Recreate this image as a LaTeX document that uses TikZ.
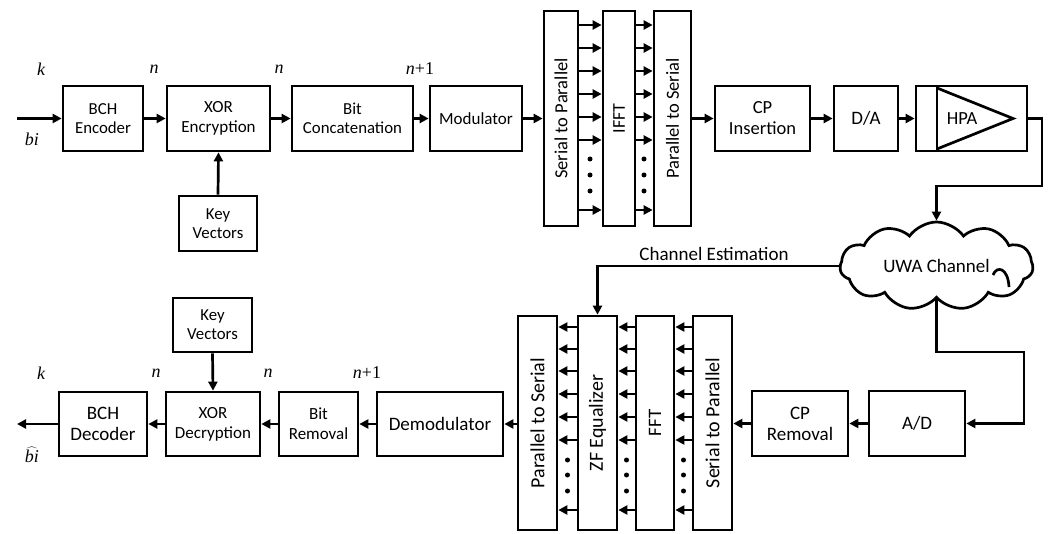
\RequirePackage{fix-cm}
\documentclass[tikz,border=0pt]{standalone}
\usepackage{fontspec}
\setmainfont{Carlito}
\newfontfamily\tms{Liberation Serif}
\usetikzlibrary{arrows.meta,shapes.symbols,calc}
\tikzset{
  box/.style={draw, line width=2.7pt, align=center, inner sep=0pt, font=\fontsize{16.8}{19}\selectfont},
  vbox/.style={draw, line width=2.7pt, rotate=90, inner sep=0pt},
  conn/.style={line width=2.7pt, -{Triangle[length=9pt,width=9pt]}},
  small/.style={line width=2.6pt, -{Triangle[length=9pt,width=9pt]}},
  lbl/.style={font=\fontsize{18}{20}\selectfont\tms, inner sep=0pt},
  dotc/.style={fill, circle, inner sep=0pt, minimum size=5pt}
}
\begin{document}
\begin{tikzpicture}[x=1pt,y=-1pt]
\useasboundingbox (0,0) rectangle (1048,534);
% ---------- top row ----------
\node[box, minimum width=80pt, minimum height=65pt] (enc) at (103,118.5) {BCH\\Encoder};
\node[box, minimum width=103pt, minimum height=65pt, font=\fontsize{17}{19.5}\selectfont] (xorE) at (218.5,118.5) {XOR\\Encryption};
\node[box, minimum width=78pt, minimum height=55pt] (keyT) at (218,223.5) {Key\\Vectors};
\node[box, minimum width=121pt, minimum height=65pt] (cat) at (352.5,118.5) {Bit\\Concatenation};
\node[box, minimum width=92pt, minimum height=65pt, font=\fontsize{17}{19.5}\selectfont] (mod) at (476,118.5) {Modulator};
\node[vbox, minimum width=215pt, minimum height=34pt, font=\fontsize{18.5}{20}\selectfont] (sp1) at (561,118.5) {Serial to Parallel};
\node[vbox, minimum width=215pt, minimum height=32pt, font=\fontsize{18}{20}\selectfont] (ifft) at (619,118.5) {IFFT};
\node[vbox, minimum width=215pt, minimum height=37pt, font=\fontsize{18.5}{20}\selectfont] (ps1) at (672.5,118.5) {Parallel to Serial};
\node[box, minimum width=95pt, minimum height=65pt, font=\fontsize{18.5}{21}\selectfont] (cpi) at (762.5,118.5) {CP\\Insertion};
\node[box, minimum width=64pt, minimum height=65pt, font=\fontsize{19}{21}\selectfont] (da) at (866,118.5) {D/A};
\node[box, minimum width=111pt, minimum height=65pt] (hpa) at (971.5,118.5) {};
\draw[line width=2.7pt] (937,86) -- (937,151);
\draw[line width=2.7pt, line join=miter] (937,88) -- (1013,118.5) -- (937,149);
\node[font=\fontsize{18.5}{20}\selectfont] (hpat) at (962,118.5) {HPA};
% cloud
\node[cloud, draw, line width=2.7pt, cloud puffs=11, cloud puff arc=110, aspect=2.2,
      minimum width=193pt, minimum height=88pt, inner sep=0pt,
      font=\fontsize{19}{21}\selectfont] (cloud) at (936.5,266) {UWA Channel};
\draw[line width=2.7pt] (993,275) .. controls (997,265) and (1008,268) .. (1009,287);
% ---------- bottom row ----------
\node[vbox, minimum width=214pt, minimum height=39pt, font=\fontsize{20}{22}\selectfont] (ps2) at (537.5,423) {Parallel to Serial};
\node[vbox, minimum width=214pt, minimum height=39pt, font=\fontsize{20}{22}\selectfont] (zf) at (597.5,423) {ZF Equalizer};
\node[vbox, minimum width=214pt, minimum height=38pt, font=\fontsize{19}{22}\selectfont] (fft) at (655,423) {FFT};
\node[vbox, minimum width=214pt, minimum height=39pt, font=\fontsize{20}{22}\selectfont] (sp2) at (712.5,423) {Serial to Parallel};
\node[box, minimum width=96pt, minimum height=65pt, font=\fontsize{19}{21}\selectfont] (cpr) at (800,423.5) {CP\\Removal};
\node[box, minimum width=96pt, minimum height=65pt, font=\fontsize{19}{21}\selectfont] (ad) at (917,423.5) {A/D};
\node[box, minimum width=126pt, minimum height=64pt, font=\fontsize{19}{21}\selectfont] (demod) at (440,424) {Demodulator};
\node[box, minimum width=79pt, minimum height=64pt, font=\fontsize{17}{20}\selectfont] (brem) at (318.5,424) {Bit\\Removal};
\node[box, minimum width=94pt, minimum height=64pt, font=\fontsize{17}{20}\selectfont] (xorD) at (213,424) {XOR\\Decryption};
\node[box, minimum width=88pt, minimum height=64pt, font=\fontsize{19}{21}\selectfont] (dec) at (103,424) {BCH\\Decoder};
\node[box, minimum width=79pt, minimum height=54pt] (keyB) at (212.5,325) {Key\\Vectors};
% ---------- labels ----------
\node[lbl] (l1) at (41,69) {\itshape k};
\node[lbl] (l2) at (32,139) {\itshape bi};
\node[lbl] (l3) at (154,69) {\itshape n};
\node[lbl] (l4) at (279,69) {\itshape n};
\node[lbl] (l5) at (420,69) {{\itshape n}+1};
\node[lbl] (l6) at (41,373) {\itshape k};
\node[lbl] (l7) at (156,373) {\itshape n};
\node[lbl] (l8) at (268,373) {\itshape n};
\node[lbl] (l9) at (367,373) {{\itshape n}+1};
\node[lbl] (l10) at (32,455) {$\widehat{\hbox{\tms\itshape bi}}$};
\node[font=\fontsize{19}{21}\selectfont] (chest) at (714,254) {Channel Estimation};
% ---------- top connectors ----------
\coordinate (in) at (17,118.5);
\draw[conn] (in) -- (enc.west);
\draw[conn] (enc.east) -- (xorE.west);
\draw[conn] (keyT.north) -- (xorE.south);
\draw[conn] (xorE.east) -- (cat.west);
\draw[conn] (cat.east) -- (mod.west);
\draw[conn] (mod.east) -- (mod.east -| sp1.north);
\foreach \y in {25,48,71,94,117,140,210} {
  \draw[small] (sp1.south |- {(0,\y)}) -- (ifft.north |- {(0,\y)});
  \draw[small] (ifft.south |- {(0,\y)}) -- (ps1.north |- {(0,\y)});
}
\foreach \y in {159,175,191} {
  \node[dotc] at (590,\y) {};
  \node[dotc] at (644,\y) {};
}
\draw[conn] (ps1.south |- cpi.west) -- (cpi.west);
\draw[conn] (cpi.east) -- (da.west);
\draw[conn] (da.east) -- (hpa.west);
\draw[conn] (hpa.east) -| (1042,186) -| (cloud.north);
% ---------- bottom connectors ----------
\draw[conn] (cloud.south) |- (1024,352) |- (ad.east);
\draw[conn] (cloud.west) -| (zf.east);
\draw[conn] (ad.west) -- (cpr.east);
\draw[conn] (cpr.west) -- (cpr.west -| sp2.south);
\foreach \y in {327,349,371,394,417,440,510} {
  \draw[small] (sp2.north |- {(0,\y)}) -- (fft.south |- {(0,\y)});
  \draw[small] (fft.north |- {(0,\y)}) -- (zf.south |- {(0,\y)});
  \draw[small] (zf.north |- {(0,\y)}) -- (ps2.south |- {(0,\y)});
}
\foreach \y in {460,475,491} {
  \node[dotc] at (567.5,\y) {};
  \node[dotc] at (626.5,\y) {};
  \node[dotc] at (683.5,\y) {};
}
\draw[conn] (ps2.north |- demod.east) -- (demod.east);
\draw[conn] (demod.west) -- (brem.east);
\draw[conn] (brem.west) -- (xorD.east);
\draw[conn] (keyB.south) -- (xorD.north);
\draw[conn] (xorD.west) -- (dec.east);
\coordinate (out) at (17,424);
\draw[conn] (dec.west) -- (out);
\end{tikzpicture}
\end{document}
